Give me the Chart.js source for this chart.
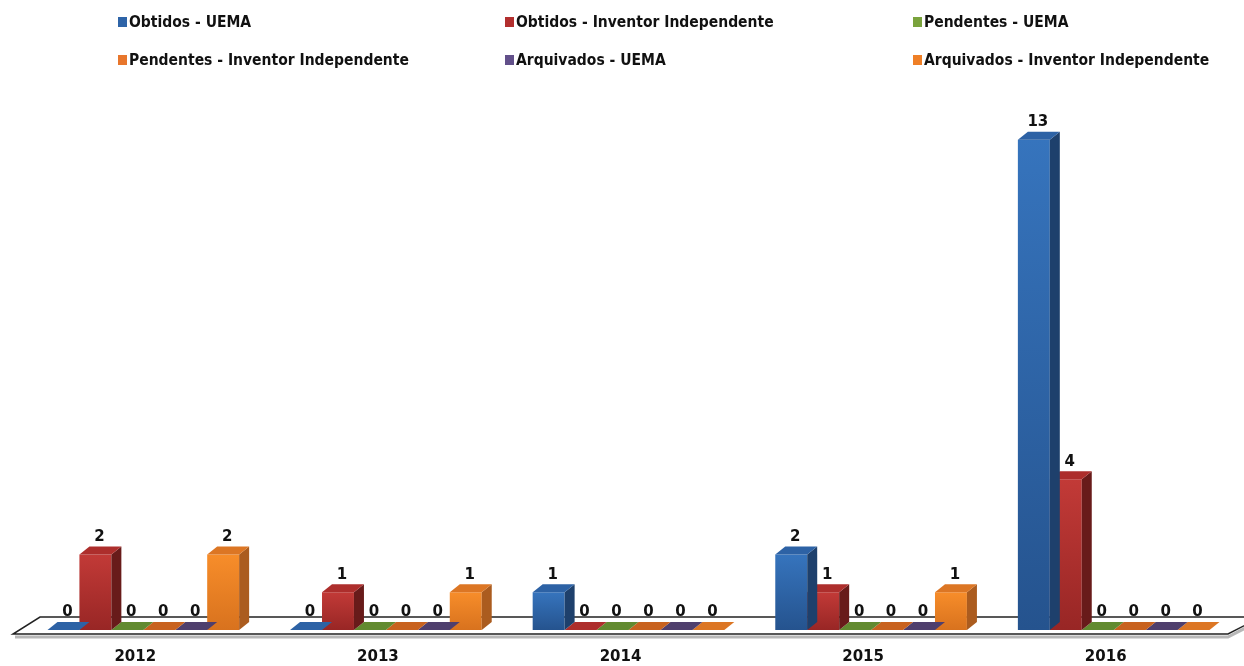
<!DOCTYPE html>
<html>
<head>
<meta charset="utf-8">
<script src="https://cdn.jsdelivr.net/npm/chart.js@4/dist/chart.umd.min.js"></script>
<style>
  html, body { margin: 0; padding: 0; background: #fff; }
  #wrap { width: 1244px; height: 666px; position: relative; }
</style>
</head>
<body>
<div id="wrap"><canvas id="chart"></canvas></div>
<script>
// categories and series
const years = ['2012', '2013', '2014', '2015', '2016'];
const seriesNames = [
  'Obtidos - UEMA',
  'Obtidos - Inventor Independente',
  'Pendentes - UEMA',
  'Pendentes - Inventor Independente',
  'Arquivados - UEMA',
  'Arquivados - Inventor Independente'
];
const obtidosUema = [0, 0, 1, 2, 13];
const obtidosInventor = [2, 1, 0, 1, 4];
const pendentesUema = [0, 0, 0, 0, 0];
const pendentesInventor = [0, 0, 0, 0, 0];
const arquivadosUema = [0, 0, 0, 0, 0];
const arquivadosInventor = [2, 1, 0, 1, 0];

// colours: front gradient (top, bottom), side face, top face, legend marker
const shades = [
  { hi: '#3674bd', lo: '#25538e', side: '#1e406c', top: '#2d62a5', key: '#2e64a8' },
  { hi: '#c23a37', lo: '#982625', side: '#681b1a', top: '#ad2e2c', key: '#b22f2e' },
  { hi: '#77a03a', lo: '#5d812c', side: '#4a6723', top: '#628a30', key: '#7aa33c' },
  { hi: '#ec7c2c', lo: '#c9621d', side: '#a24f18', top: '#c8621f', key: '#e8762c' },
  { hi: '#6a5590', lo: '#4f3f6e', side: '#3d3055', top: '#4f3f6d', key: '#62508a' },
  { hi: '#f78d2a', lo: '#d8721e', side: '#ab5c1f', top: '#dc7624', key: '#ef7f26' }
];

const depthX = 10, depthY = 8;

// gradient from the top of each bar down to the floor
function frontGradient(c, s) {
  const chart = c.chart;
  if (!chart.chartArea || !c.parsed) return s.hi;
  const yScale = chart.scales.y;
  const top = yScale.getPixelForValue(c.parsed.y);
  const base = yScale.getPixelForValue(0);
  if (base - top < 1) return s.hi;
  const g = chart.ctx.createLinearGradient(0, top, 0, base);
  g.addColorStop(0, s.hi);
  g.addColorStop(1, s.lo);
  return g;
}

function poly(ctx, pts, fill) {
  ctx.beginPath();
  ctx.moveTo(pts[0][0], pts[0][1]);
  for (let i = 1; i < pts.length; i++) ctx.lineTo(pts[i][0], pts[i][1]);
  ctx.closePath();
  ctx.fillStyle = fill;
  ctx.fill();
}

// floor, side/top faces, value labels and legend
const bars3d = {
  id: 'bars3d',
  beforeDatasetsDraw(chart) {
    const { ctx, chartArea: a } = chart;
    const backY = a.bottom - 13, frontY = a.bottom + 4;
    const bl = [a.left + 18, backY], br = [a.right + 26, backY];
    const fr = [a.right - 7, frontY], fl = [a.left - 9, frontY];
    ctx.save();
    poly(ctx, [bl, br, fr, fl], '#ffffff');
    ctx.strokeStyle = '#b8b8b8';
    ctx.lineWidth = 3;
    ctx.beginPath();
    ctx.moveTo(fl[0] + 2, frontY + 3);
    ctx.lineTo(fr[0], frontY + 3);
    ctx.lineTo(br[0], backY + 3);
    ctx.stroke();
    ctx.strokeStyle = '#222';
    ctx.lineWidth = 1.5;
    ctx.beginPath();
    ctx.moveTo(br[0], br[1]);
    ctx.lineTo(bl[0], bl[1]);
    ctx.lineTo(fl[0], fl[1]);
    ctx.lineTo(fr[0], fr[1]);
    ctx.lineTo(br[0], br[1]);
    ctx.stroke();
    ctx.restore();
  },
  afterDatasetDraw(chart, args) {
    const ctx = chart.ctx;
    const s = shades[args.index];
    ctx.save();
    args.meta.data.forEach(bar => {
      const { x, y, base, width } = bar.getProps(['x', 'y', 'base', 'width'], true);
      const x0 = x - width / 2, x1 = x + width / 2;
      if (base - y > 0.5) {
        poly(ctx, [[x1, y], [x1 + depthX, y - depthY], [x1 + depthX, base - depthY], [x1, base]], s.side);
      }
      poly(ctx, [[x0, y], [x0 + depthX, y - depthY], [x1 + depthX, y - depthY], [x1, y]], s.top);
    });
    ctx.restore();
  },
  afterDatasetsDraw(chart) {
    const ctx = chart.ctx;
    ctx.save();
    ctx.font = 'bold 15px "DejaVu Sans", sans-serif';
    ctx.fillStyle = '#111';
    ctx.textAlign = 'center';
    ctx.textBaseline = 'bottom';
    chart.data.datasets.forEach((ds, i) => {
      chart.getDatasetMeta(i).data.forEach((bar, j) => {
        const { x, y } = bar.getProps(['x', 'y'], true);
        ctx.fillText(String(ds.data[j]), x + 4, y - depthY - 2);
      });
    });
    // legend in three columns
    const cols = [118, 505, 913], rows = [22, 60];
    ctx.font = 'bold 15.5px "DejaVu Sans Condensed", "DejaVu Sans", sans-serif';
    ctx.textAlign = 'left';
    ctx.textBaseline = 'middle';
    chart.data.datasets.forEach((ds, i) => {
      const cx = cols[i % 3], cy = rows[Math.floor(i / 3)];
      ctx.fillStyle = shades[i].key;
      ctx.fillRect(cx, cy - 5, 9, 10);
      ctx.fillStyle = '#111';
      ctx.fillText(ds.label, cx + 11, cy + 1);
    });
    ctx.restore();
  }
};

const seriesValues = [obtidosUema, obtidosInventor, pendentesUema, pendentesInventor, arquivadosUema, arquivadosInventor];

new Chart(document.getElementById('chart'), {
  type: 'bar',
  data: {
    labels: years,
    datasets: seriesValues.map((vals, i) => ({
      label: seriesNames[i],
      data: vals,
      backgroundColor: c => frontGradient(c, shades[i]),
      borderWidth: 0,
      barPercentage: 1,
      categoryPercentage: 0.79
    }))
  },
  options: {
    responsive: true,
    maintainAspectRatio: false,
    animation: false,
    layout: { padding: { top: 102, left: 22, right: 9, bottom: 0 } },
    plugins: { legend: { display: false }, tooltip: { enabled: false } },
    scales: {
      x: {
        grid: { display: false, drawTicks: false },
        border: { display: false },
        afterFit(scale) { scale.height = 36; },
        ticks: {
          color: '#111',
          padding: 20,
          labelOffset: -8,
          font: { family: '"DejaVu Sans", sans-serif', weight: 'bold', size: 15, lineHeight: 1 }
        }
      },
      y: { display: false, min: 0, max: 14 }
    }
  },
  plugins: [bars3d]
});
</script>
</body>
</html>
